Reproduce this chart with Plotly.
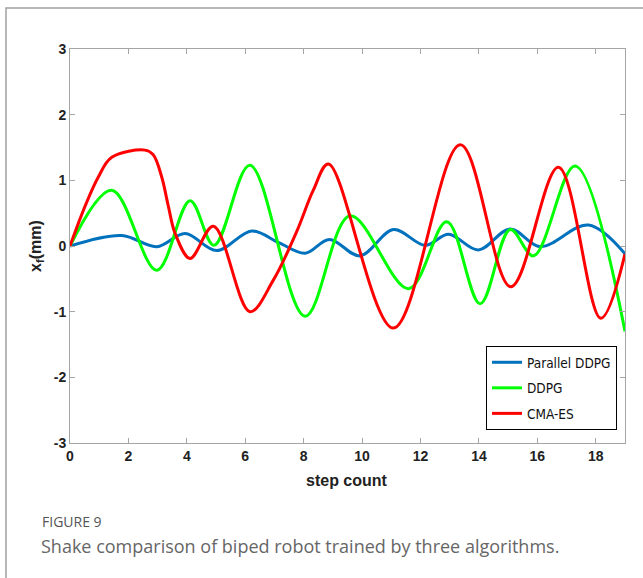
import plotly.graph_objects as go

# Lateral shake x_f (mm) versus step count for three training algorithms
parallel_x = [0, 1.77, 2.97, 3.94, 5.02, 6.22, 7.15, 8.05, 8.88, 9.93, 11.07, 12.16,
              12.96, 13.98, 15.07, 16.1, 17.75, 19]
parallel_y = [0, 0.16, -0.01, 0.19, -0.07, 0.23, 0.05, -0.11, 0.10, -0.15, 0.25, 0.01,
              0.18, -0.06, 0.26, -0.01, 0.32, -0.12]

ddpg_x = [0, 1.43, 2.97, 4.11, 4.93, 6.16, 8.05, 9.59, 11.59, 12.9, 14.04, 15.07,
          15.87, 17.29, 19]
ddpg_y = [0, 0.85, -0.37, 0.69, 0.01, 1.23, -1.07, 0.46, -0.65, 0.37, -0.88, 0.25,
          -0.15, 1.22, -1.3]

cma_x = [0, 0.51, 0.97, 1.43, 2.57, 2.85, 3.14, 3.37, 3.6, 4.11, 4.91, 6.16,
         6.96, 7.76, 8.33, 8.85, 11.07, 13.36, 15.09, 16.72, 18.17, 19]
cma_y = [0, 0.6, 1.05, 1.35, 1.46, 1.39, 1.05, 0.6, 0.19, -0.19, 0.30, -1.0,
         -0.52, 0.22, 0.85, 1.25, -1.25, 1.54, -0.62, 1.2, -1.1, -0.12]

x_ticks = [0, 2, 4, 6, 8, 10, 12, 14, 16, 18]
y_ticks = [-3, -2, -1, 0, 1, 2, 3]
y_tick_text = ["-3", "-2", "-1", "0", "1", "2", "3"]

series = [
    ("Parallel DDPG", parallel_x, parallel_y, "#0072BD"),
    ("DDPG", ddpg_x, ddpg_y, "#00FF00"),
    ("CMA-ES", cma_x, cma_y, "#FF0000"),
]

fig = go.Figure()
for name, xs, ys, color in series:
    fig.add_trace(go.Scatter(
        x=xs, y=ys, name=name, mode="lines", legendgroup=name,
        line=dict(color=color, width=3, shape="spline", smoothing=1.0),
    ))

# plot area in pixels
L, R, T, B = 70, 625, 49, 443
W, H = 643, 578


def px_x(p):
    return (p - L) / (R - L)


def px_y(p):
    return (B - p) / (B - T)


axis_common = dict(
    showline=True, linecolor="#a5a5a5", linewidth=1, mirror="ticks",
    ticks="inside", ticklen=5, tickcolor="#a5a5a5", showgrid=False, zeroline=False,
    tickfont=dict(family="Liberation Sans, Arial", size=14, color="#222222", weight="bold"),
)

fig.update_layout(
    width=W, height=H,
    margin=dict(l=L, r=W - R, t=T, b=H - B),
    paper_bgcolor="white", plot_bgcolor="white",
    showlegend=True,
    legend=dict(
        x=px_x(617), y=px_y(430), xanchor="right", yanchor="bottom",
        bordercolor="black", borderwidth=1, bgcolor="white",
        font=dict(family="DejaVu Sans Condensed, Liberation Sans", size=13.5, color="#111111"),
        tracegroupgap=5,
    ),
    xaxis=dict(range=[0, 19], tickvals=x_ticks, **axis_common),
    yaxis=dict(range=[-3, 3], tickvals=y_ticks, ticktext=y_tick_text, **axis_common),
)

# axis titles
fig.add_annotation(
    x=px_x(347), y=px_y(480), xref="paper", yref="paper", showarrow=False,
    text="<b>step count</b>", font=dict(family="Liberation Sans, Arial", size=16, color="#222222"),
    xanchor="center", yanchor="middle",
)
fig.add_annotation(
    x=px_x(36), y=px_y(246), xref="paper", yref="paper", showarrow=False, textangle=-90,
    text="<b>x<sub>f</sub>(mm)</b>", font=dict(family="Liberation Sans, Arial", size=16, color="#222222"),
    xanchor="center", yanchor="middle",
)

# figure frame
fig.add_shape(
    type="rect", xref="paper", yref="paper",
    x0=px_x(6), x1=px_x(650), y0=px_y(590), y1=px_y(8),
    line=dict(color="#a0a0a0", width=1.5), fillcolor="rgba(0,0,0,0)", layer="below",
)

# caption
fig.add_annotation(
    x=px_x(40), y=px_y(521), xref="paper", yref="paper", showarrow=False,
    text="FIGURE 9", font=dict(family="Open Sans", size=14, color="#555555"),
    xanchor="left", yanchor="middle",
)
fig.add_annotation(
    x=px_x(39), y=px_y(546), xref="paper", yref="paper", showarrow=False,
    text="Shake comparison of biped robot trained by three algorithms.",
    font=dict(family="Open Sans", size=18, color="#666666"),
    xanchor="left", yanchor="middle",
)

fig.write_html("out.html")
